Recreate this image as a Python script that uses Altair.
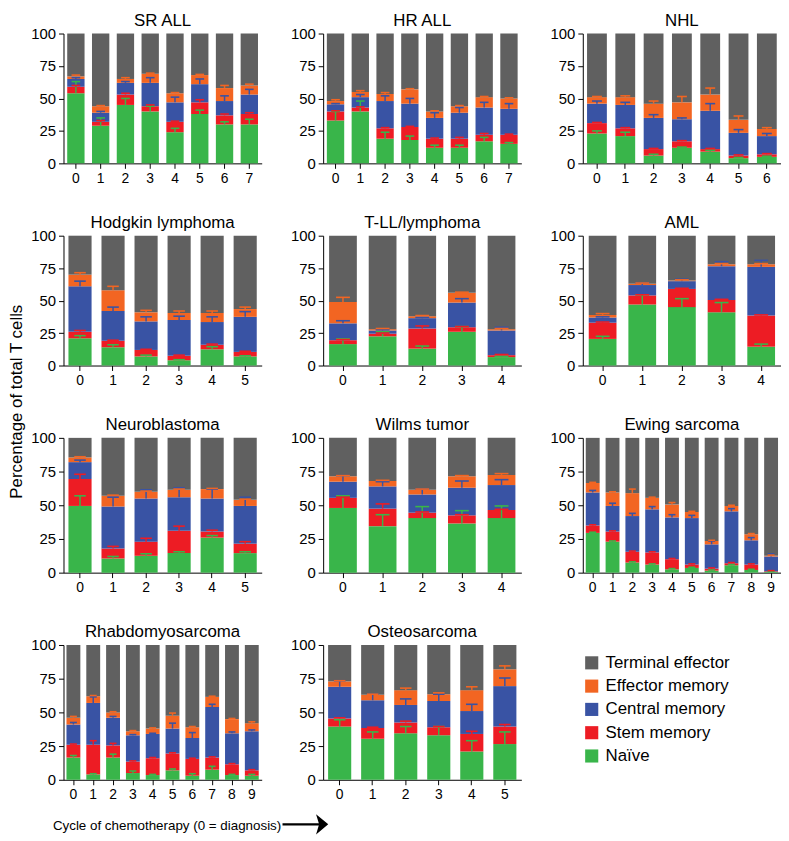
import altair as alt
import pandas as pd

SERIES = ["Naïve", "Stem memory", "Central memory", "Effector memory", "Terminal effector"]
COLORS = ["#39b54a", "#ed1c24", "#3953a4", "#f26522", "#606060"]
LEGEND_ORDER = ["Terminal effector", "Effector memory", "Central memory", "Stem memory", "Naïve"]

# ---------------- data (percent of total T cells, mean and SEM) ----------------
# SR ALL
sr_naive = [54, 29, 45, 40, 24, 38, 30, 30]
sr_stem = [5, 3, 8, 4, 8, 9, 7, 8]
sr_central = [6, 7, 9, 18, 15, 14, 11, 15]
sr_effector = [2, 5, 3, 7, 7, 7, 10, 7]
sr_naive_sem = [9, 6, 5, 4, 3, 3, 2, 4]
sr_stem_sem = [1, 1, 1, 1, 0.5, 2, 1, 1]
sr_central_sem = [1, 1, 1, 4, 4, 4, 4, 4]
sr_effector_sem = [1, 0.5, 1, 0.5, 0.5, 0.5, 2, 1]

# HR ALL
hr_naive = [33, 40, 19, 18, 12, 12, 17, 15]
hr_stem = [7, 3, 8, 10, 7, 7, 5, 7]
hr_central = [5.5, 8, 21, 18, 16, 20, 21, 20]
hr_effector = [2.5, 4, 5.5, 11, 5, 5, 8, 8]
hr_naive_sem = [7, 8, 5, 3, 2, 2, 3, 1]
hr_stem_sem = [0.5, 0.5, 0.5, 0.5, 0.5, 1, 1, 0.5]
hr_central_sem = [0.5, 2, 4, 4, 4, 4, 4, 4]
hr_effector_sem = [1, 1, 1, 0.5, 0.5, 0.5, 0.5, 0.5]

# NHL
nhl_naive = [23, 21, 6, 12, 9, 4, 5]
nhl_stem = [8, 6, 5, 5, 2, 2, 2]
nhl_central = [15, 18, 24, 17, 29.5, 17.5, 14]
nhl_effector = [5, 6, 11, 13, 12.5, 10, 5.5]
nhl_naive_sem = [2, 3, 1, 0.5, 1, 0.5, 0.5]
nhl_stem_sem = [0.5, 0.5, 0.5, 0.5, 0.5, 0.5, 0.5]
nhl_central_sem = [2, 2, 2.5, 1, 5.5, 2.5, 2]
nhl_effector_sem = [0.5, 1, 2, 4.5, 5, 3, 1]

# Hodgkin lymphoma
hl_naive = [21, 14, 7, 4, 12.5, 7]
hl_stem = [5, 5, 5, 3.5, 3.5, 3.5]
hl_central = [35, 23, 22, 27.5, 17.5, 27]
hl_effector = [9, 16, 7, 5.5, 7, 6]
hl_naive_sem = [2, 2, 1, 0.5, 2, 0.5]
hl_stem_sem = [1, 0.5, 0.5, 0.5, 0.5, 0.5]
hl_central_sem = [4, 3, 3.5, 3, 4, 4]
hl_effector_sem = [1.5, 3, 1.5, 1.5, 1.5, 1.5]

# T-LL/lymphoma
tll_naive = [16.5, 22.5, 13, 26, 6.5]
tll_stem = [3, 2, 15.5, 3.5, 1.5]
tll_central = [13, 2.5, 8, 19, 19]
tll_effector = [16.5, 1, 1.5, 7.5, 1]
tll_naive_sem = [4, 3.5, 2, 4, 0.5]
tll_stem_sem = [0.5, 0.5, 2, 0.5, 0.5]
tll_central_sem = [2, 0.5, 0.5, 3, 2.5]
tll_effector_sem = [3.5, 0.5, 0.5, 0.5, 0.5]

# AML
aml_naive = [20.5, 47, 45, 41, 14.5]
aml_stem = [12.5, 7, 14, 9.5, 24]
aml_central = [4, 8, 6, 26, 37.5]
aml_effector = [2, 1, 0.5, 1.5, 2]
aml_naive_sem = [2, 7.5, 6.5, 7.5, 2]
aml_stem_sem = [0.5, 0.5, 0.5, 0.5, 0.5]
aml_central_sem = [0.5, 1.5, 1.5, 3.5, 5]
aml_effector_sem = [1, 0.5, 0.5, 0.5, 0.5]

# Neuroblastoma
nb_naive = [49.5, 10.5, 12.5, 14.5, 26, 14.5]
nb_stem = [20, 7.5, 10.5, 16.5, 4.5, 7]
nb_central = [12.5, 31, 32, 25, 24.5, 28]
nb_effector = [3.5, 8, 5, 5.5, 7, 4.5]
nb_naive_sem = [7.5, 1.5, 1.5, 1, 1.5, 1]
nb_stem_sem = [3.5, 1.5, 2.5, 3.5, 1, 1.5]
nb_central_sem = [1.5, 7, 6.5, 7, 7, 6.5]
nb_effector_sem = [0.5, 0.5, 0.5, 0.5, 0.5, 0.5]

# Wilms tumor
wt_naive = [48, 34.5, 40.5, 36.5, 40.5]
wt_stem = [7.5, 13, 4, 6, 6]
wt_central = [12, 16.5, 13.5, 20.5, 18.5]
wt_effector = [4, 4, 3.5, 8.5, 7.5]
wt_naive_sem = [9, 8.5, 8.5, 9.5, 9]
wt_stem_sem = [0.5, 3.5, 0.5, 0.5, 0.5]
wt_central_sem = [4.5, 3.5, 4, 5, 4]
wt_effector_sem = [0.5, 0.5, 0.5, 0.5, 1]

# Ewing sarcoma
es_naive = [29.5, 23, 7.5, 6, 2.5, 3.5, 1.5, 5.5, 2, 0.5]
es_stem = [5.5, 7.5, 8, 9, 7.5, 2.5, 1.5, 1.5, 4, 0.5]
es_central = [24.5, 19, 26.5, 32, 31, 34.5, 18, 38.5, 18, 11]
es_effector = [7, 10, 17, 8.5, 9.5, 4.5, 2.5, 4, 4.5, 0.5]
es_naive_sem = [0.5, 0.5, 0.5, 0.5, 0.5, 0.5, 0.5, 0.5, 0.5, 0.5]
es_stem_sem = [0.5, 0.5, 0.5, 0.5, 0.5, 0.5, 0.5, 0.5, 0.5, 0.5]
es_central_sem = [1.5, 2, 2, 2, 2, 2, 2.5, 2, 2, 2]
es_effector_sem = [0.5, 0.5, 3, 0.5, 1.5, 0.5, 0.5, 0.5, 0.5, 0.5]

# Rhabdomyosarcoma
rms_naive = [16.5, 4, 16.5, 5, 3.5, 7, 3, 7.5, 3.5, 3]
rms_stem = [9.5, 22, 9, 8.5, 12.5, 12.5, 12.5, 9, 8, 4]
rms_central = [15, 31, 20.5, 19.5, 18, 18.5, 15.5, 37.5, 23, 29]
rms_effector = [5, 5, 4, 3, 4, 9.5, 8, 7.5, 10.5, 6]
rms_naive_sem = [1.5, 0.5, 2.5, 1.5, 0.5, 1, 1.5, 2.5, 0.5, 1]
rms_stem_sem = [0.5, 3, 1.5, 0.5, 0.5, 0.5, 0.5, 0.5, 0.5, 0.5]
rms_central_sem = [1.5, 4.5, 1, 0.5, 0.5, 4, 4, 2, 1, 1]
rms_effector_sem = [1, 0.5, 0.5, 0.5, 0.5, 2, 0.5, 0.5, 0.5, 1]

# Osteosarcoma
os_naive = [39.5, 30.5, 34.5, 33, 21, 26.5]
os_stem = [6, 8, 8, 6, 13, 13]
os_central = [23.5, 20.5, 13, 19.5, 17, 30]
os_effector = [4, 4, 11, 5, 15.5, 12.5]
os_naive_sem = [5, 5, 5, 6.5, 8, 9]
os_stem_sem = [0.5, 0.5, 1, 0.5, 2, 1.5]
os_central_sem = [4.5, 4.5, 4.5, 5, 5, 6]
os_effector_sem = [0.5, 0.5, 1.5, 1, 2.5, 2.5]

Y_TICKS = [0, 25, 50, 75, 100]
Y_TITLE = "Percentage of total T cells"
X_TITLE = "Cycle of chemotherapy (0 = diagnosis)"

# ---------------- styling ----------------
W = 200
ROW_H = [131, 131, 136, 136]
PI, PO = 0.3, 0.15
FONT = "Liberation Sans"

color_scale = alt.Scale(domain=SERIES, range=COLORS)
y_scale = alt.Scale(domain=[0, 100], nice=False, zero=True)


def panel(title, means, sems, height, y_title=None, x_title=None):
    rows = []
    n_bars = len(means[0])
    for i in range(n_bars):
        vals = [m[i] for m in means]
        errs = [s[i] for s in sems]
        vals.append(100 - sum(vals))
        errs.append(0)
        for k in range(5):
            rows.append(dict(cycle=i, series=SERIES[k], order=k, pct=vals[k], err=errs[k]))
    df = pd.DataFrame(rows)

    step = W / (n_bars - PI + 2 * PO)
    cap = 0.5 * step * (1 - PI)

    x_axis_kw = dict(title=None, labelAngle=0, labelFontSize=14,
                     ticks=True, tickSize=5, labelPadding=3)
    if x_title:
        x_axis_kw.update(title=x_title, titleFontSize=13.5,
                         titleFontWeight="normal", titleX=104, titleY=46,
                         titleBaseline="middle", titleAlign="center")
    x = alt.X("cycle:O", scale=alt.Scale(paddingInner=PI, paddingOuter=PO),
              axis=alt.Axis(**x_axis_kw))

    y_axis_kw = dict(values=Y_TICKS, title=None, labelFontSize=15, tickSize=5, labelPadding=3)
    if y_title:
        y_axis_kw.update(title=y_title, titleFontSize=17, titleFontWeight="normal",
                         titleX=-38, titleY=167, titleAngle=270,
                         titleAlign="center", titleBaseline="bottom")
    y_axis = alt.Axis(**y_axis_kw)

    def Y(field):
        return alt.Y(field, scale=y_scale, axis=y_axis)

    color = alt.Color("series:N", scale=color_scale, legend=None)

    base = (alt.Chart(df)
            .transform_stack(stack="pct", groupby=["cycle"], as_=["y0", "y1"],
                             sort=[alt.SortField(field="order", order="ascending")])
            .transform_calculate(ye="datum.y1 + datum.err"))

    bars = base.mark_bar().encode(x=x, y=Y("y0:Q"), y2="y1:Q", color=color)
    err = base.transform_filter("datum.err > 0")
    rules = err.mark_rule(strokeWidth=1.5).encode(x=x, y=Y("y1:Q"), y2="ye:Q", color=color)
    caps = err.mark_tick(size=cap, thickness=1.6, opacity=1).encode(x=x, y=Y("ye:Q"), color=color)
    layers = [bars, rules, caps]

    if x_title:
        one = alt.Chart(pd.DataFrame({"k": [0]}))
        shaft = one.mark_rule(strokeWidth=2.5, color="black").encode(
            x=alt.value(221), x2=alt.value(258), y=alt.value(181), y2=alt.value(181))
        head = one.mark_point(shape="M -0.6 -1 L 0.6 0 L -0.6 1 L -0.3 0 Z", filled=True,
                              size=420, color="black", opacity=1).encode(
            x=alt.value(261), y=alt.value(181))
        layers += [shaft, head]

    return alt.layer(*layers).properties(width=W, height=height, title=title)


def legend_panel(height):
    ldf = pd.DataFrame({"series": LEGEND_ORDER})
    ly = alt.Y("series:N", scale=alt.Scale(domain=LEGEND_ORDER, range=[18, 112], padding=0),
               axis=None)
    sq = alt.Chart(ldf).mark_square(size=175, opacity=1).encode(
        x=alt.value(9), y=ly, color=alt.Color("series:N", scale=color_scale, legend=None))
    tx = alt.Chart(ldf).mark_text(align="left", baseline="middle", font=FONT, fontSize=17,
                                  color="black").encode(x=alt.value(23), y=ly, text="series:N")
    return alt.layer(sq, tx).properties(width=W, height=height)


panels = [
    panel("SR ALL", [sr_naive, sr_stem, sr_central, sr_effector],
          [sr_naive_sem, sr_stem_sem, sr_central_sem, sr_effector_sem], ROW_H[0]),
    panel("HR ALL", [hr_naive, hr_stem, hr_central, hr_effector],
          [hr_naive_sem, hr_stem_sem, hr_central_sem, hr_effector_sem], ROW_H[0]),
    panel("NHL", [nhl_naive, nhl_stem, nhl_central, nhl_effector],
          [nhl_naive_sem, nhl_stem_sem, nhl_central_sem, nhl_effector_sem], ROW_H[0]),
    panel("Hodgkin lymphoma", [hl_naive, hl_stem, hl_central, hl_effector],
          [hl_naive_sem, hl_stem_sem, hl_central_sem, hl_effector_sem], ROW_H[1],
          y_title=Y_TITLE),
    panel("T-LL/lymphoma", [tll_naive, tll_stem, tll_central, tll_effector],
          [tll_naive_sem, tll_stem_sem, tll_central_sem, tll_effector_sem], ROW_H[1]),
    panel("AML", [aml_naive, aml_stem, aml_central, aml_effector],
          [aml_naive_sem, aml_stem_sem, aml_central_sem, aml_effector_sem], ROW_H[1]),
    panel("Neuroblastoma", [nb_naive, nb_stem, nb_central, nb_effector],
          [nb_naive_sem, nb_stem_sem, nb_central_sem, nb_effector_sem], ROW_H[2]),
    panel("Wilms  tumor", [wt_naive, wt_stem, wt_central, wt_effector],
          [wt_naive_sem, wt_stem_sem, wt_central_sem, wt_effector_sem], ROW_H[2]),
    panel("Ewing sarcoma", [es_naive, es_stem, es_central, es_effector],
          [es_naive_sem, es_stem_sem, es_central_sem, es_effector_sem], ROW_H[2]),
    panel("Rhabdomyosarcoma", [rms_naive, rms_stem, rms_central, rms_effector],
          [rms_naive_sem, rms_stem_sem, rms_central_sem, rms_effector_sem], ROW_H[3],
          x_title=X_TITLE),
    panel("Osteosarcoma", [os_naive, os_stem, os_central, os_effector],
          [os_naive_sem, os_stem_sem, os_central_sem, os_effector_sem], ROW_H[3]),
    legend_panel(ROW_H[3]),
]

chart = (
    alt.concat(*panels, columns=3, spacing={"row": 73, "column": 62},
               bounds="flush", align="each")
    .properties(padding=0, background="white")
    .configure_view(stroke=None)
    .configure_axis(domainColor="black", tickColor="black", labelColor="black",
                    titleColor="black", grid=False, domainWidth=1, tickWidth=1,
                    labelFont=FONT, titleFont=FONT)
    .configure_title(font=FONT, fontSize=17, fontWeight="normal", color="black",
                     offset=-3, anchor="middle", frame="group")
)

chart.save("out.html", embed_options={"renderer": "svg", "actions": False})
